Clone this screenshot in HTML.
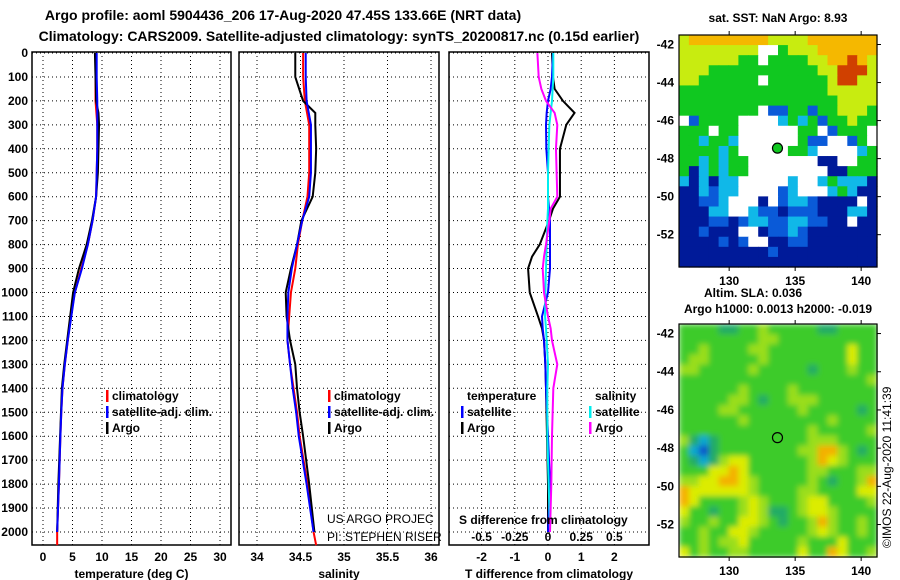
<!DOCTYPE html>
<html><head><meta charset="utf-8"><style>
body{margin:0;background:#fff;width:900px;height:580px;overflow:hidden}
svg{display:block;font-family:"Liberation Sans",sans-serif}
.b{font-weight:bold;font-size:12px}
</style></head><body>
<svg id="fig" width="900" height="580" viewBox="0 0 900 580" xmlns="http://www.w3.org/2000/svg">
<text x="283" y="20" text-anchor="middle" class="b" style="font-size:14px">Argo profile: aoml 5904436_206 17-Aug-2020 47.45S 133.66E (NRT data)</text>
<text x="339" y="41" text-anchor="middle" class="b" style="font-size:14px">Climatology: CARS2009. Satellite-adjusted climatology: synTS_20200817.nc (0.15d earlier)</text>
<g id="panels"></g>
<g id="maps"></g>
<text x="778" y="22" text-anchor="middle" class="b">sat. SST: NaN Argo: 8.93</text>
<text x="753" y="297" text-anchor="middle" class="b">Altim. SLA: 0.036</text>
<text x="778" y="313" text-anchor="middle" class="b">Argo h1000: 0.0013 h2000: -0.019</text>
<text transform="translate(891,548) rotate(-90)" style="font-size:12px">©IMOS 22-Aug-2020 11:41:39</text>
</svg>
<script>
// ---- profile data ----
const depthsT = [0,100,200,250,300,400,500,600,700,800,900,1000,1100,1200,1300,1400,1500,1600,1800,2000];
const tempArgo = [8.8,8.9,9.0,9.4,9.5,9.4,9.3,9.0,8.3,7.4,6.1,5.1,4.6,4.1,3.6,3.2,3.05,2.9,2.6,2.4];
const depthsC = [0,100,200,300,400,500,600,700,800,900,1000,1100,1200,1300,1400,1500,1600,1800,2000,2055];
const tempClim = [8.9,8.9,8.9,9.2,9.2,9.1,9.0,8.4,7.6,6.5,5.4,4.7,4.2,3.7,3.3,3.1,2.95,2.7,2.4,2.4];
const tempSat = [9.1,9.1,9.2,9.2,9.2,9.1,9.0,8.4,7.6,6.6,5.4,4.8,4.2,3.7,3.3,3.1,2.95,2.7,2.4,2.4];
const salArgo = [34.44,34.44,34.53,34.67,34.67,34.68,34.67,34.64,34.51,34.46,34.39,34.33,34.34,34.38,34.44,34.46,34.49,34.53,34.6,34.66];
const salClim = [34.53,34.53,34.55,34.60,34.60,34.60,34.58,34.52,34.47,34.44,34.39,34.37,34.35,34.38,34.42,34.46,34.49,34.58,34.65,34.68];
const salSat = [34.56,34.56,34.57,34.62,34.62,34.62,34.60,34.52,34.46,34.40,34.36,34.35,34.35,34.38,34.41,34.45,34.48,34.57,34.65,34.66];
const dDepths = [0,100,150,200,250,300,400,500,600,650,700,800,850,900,1000,1100,1150,1200,1300,1400,1600,1800,2000];
const tDiffArgo = [0.12,0.15,0.2,0.45,0.8,0.55,0.36,0.36,0.36,0.15,0.03,-0.25,-0.48,-0.6,-0.55,-0.3,-0.18,-0.12,-0.08,-0.06,-0.03,0,0];
const tDiffSat = [0.15,0.12,0.08,0,-0.04,-0.06,-0.05,0,0,0.03,0.06,0.06,0.06,0.06,0,-0.18,-0.16,-0.12,-0.08,-0.06,0,0.06,0];
const sDiffSat = [0.04,0.04,0.035,0.03,0.02,0.01,0.005,0,0,0,-0.005,-0.01,-0.012,-0.015,-0.02,-0.022,-0.015,-0.01,0,-0.005,-0.005,0.005,0.015];
const sDiffArgo = [-0.08,-0.07,-0.05,-0.015,0.05,0.07,0.06,0.065,0.07,0.02,0.01,-0.015,-0.03,-0.04,-0.03,0,0.02,0.03,0.07,0.04,0.03,0.025,0.015];
const depthTicks = [0,100,200,300,400,500,600,700,800,900,1000,1100,1200,1300,1400,1500,1600,1700,1800,1900,2000];
const tempTicks = [0,5,10,15,20,25,30];
const salTicks = [34,34.5,35,35.5,36];
const tdTicks = [-2,-1,0,1,2];
const sdTicks = [-0.5,-0.25,0,0.25,0.5];
const sdTickLabels = ["-0.5","-0.25","0","0.25","0.5"];

// ---- map data ----
const sstRows = [
"YOOOOOOOOYYYYOOOOOOO","YYYYYYYYWWGYYYOOOOOO","YYYYYYGGWGGGGYYOOROY","YYYGGGGGGGGGGGYYRRRY",
"YYGGGGGGWGGGGGGYRRYY","GGGGGGGGGGGGGGGYYYYY","GGGGGGGGGGGGGGGGYYYY","GGGGGGGGWBBGGBGGYYYG",
"WBGGGGWWWWCGCGBGGYGG","GGGWGGWWWWWWGGWBGGGW","GGCGGCWWWWWWGBBWWBGW","GGGGCGWWWWWGGCWWWWCG",
"GGCGCGGWWWWWWWDDWWGG","GDCGCGGWWWWWWWWDDGGG","CDCDCCWWWWWCWWCGCCCD","DDCBCCWWWWBCWWWCGCDD",
"DDBBCWWWDWBCCBDDDDWD","DDDCCWWCBBDBBBDDDCCD","DDDBBDBCCBBCCBBDDWDD","DDBDDDWWDBBCBDDDDDDD",
"DDDDBDBWWDDBBDDDDDDD","DDDDDDDDDBDDDDDDDDDD","DDDDDDDDDDDDDDDDDDDD"];
const slaRows = [
"GGGGTTGGLGGGGGTTGGGG","GGGGGGGGLLGGGGGGGGGG","GGLGGGGLLGGGGGGGGYGG","GLLGGGGGLGGGGGGGGYGG",
"LLGGGGGLGGGGGTGGGLGG","GGGGGGGGGGGGGGGGGGGL","GGGGGGLGGGGLGGGGGGGG","GGGGGLLGTGGLLLGGGGGG",
"GGGGLLGGGGGGLGGGGGTG","GGGGGGLGGGGGGGGLGGGG","GGGGGGGGGGGGGLGGGGGL","LTCTGGGGGGGGGLLLGGGG",
"GCBTGGGGGGGGLLOOLGTG","GTCTLYYGGGGGGLOYLGGG","GGGYYOYGGGGGGLLGGGLL","LLYYOOYLGGGGGLGTGGLO",
"OYYYYYYLGGGGLLGGGGYY","OYGGGGLYLGGGLYYGGGGL","YGGTGGLYLTTGLYYLGGGG","LGGLGGYYLGTGGLOLGGLG",
"GGLGGYYLGGGGGLYLGGLG","GGLGLLYGGGGGLGGGYGGG","YGLGGLLGGGGGYGGOYGGL"];
const latTicks = [-42,-44,-46,-48,-50,-52];
const lonTicks = [130,135,140];
const argoLon = 133.66, argoLat = -47.45;

const NS="http://www.w3.org/2000/svg";
function el(tag,attrs,parent,txt){const e=document.createElementNS(NS,tag);for(const k in attrs)e.setAttribute(k,attrs[k]);if(txt!==undefined)e.textContent=txt;parent.appendChild(e);return e;}
const panels=document.getElementById('panels');
const y = d => 53 + d*0.2395;
const Y0=52, Y1=545;

function panel(name,x0,x1,xs,ticks,labels,title){
  const g=el('g',{},panels);
  
  
  depthTicks.forEach(d=>{const l=el('line',{x1:x0,x2:x1,y1:y(d),y2:y(d),stroke:'#000','stroke-width':1,'stroke-dasharray':'1,3'},g);
    
    });
  ticks.forEach((t,i)=>{const l=el('line',{x1:xs(t),x2:xs(t),y1:Y0,y2:Y1,stroke:'#000','stroke-width':1,'stroke-dasharray':'1,3'},g);
    
    
    if(labels){const tx=el('text',{x:xs(t),y:561,'text-anchor':'middle',class:'b'},g,labels[i]);
    
    }});
  const r=el('rect',{x:x0,y:Y0,width:x1-x0,height:Y1-Y0,fill:'none',stroke:'#000','stroke-width':1.5},g);
  
  
  const tt=el('text',{x:(x0+x1)/2,y:578,'text-anchor':'middle',class:'b'},g,title);
  
  
  return g;
}
function line(g,depths,vals,xs,color,name){
  let pts=[];
  for(let i=0;i<depths.length;i++){pts.push(xs(vals[i])+','+y(depths[i]));}
  const p=el('polyline',{points:pts.join(' '),fill:'none',stroke:color,'stroke-width':2},g);
  
  
}
function legend(g,x,yy,color,text,name){
  const b=el('rect',{x:x,y:yy-10,width:2.5,height:12,fill:color},g);
  
  
  const t=el('text',{x:x+6,y:yy,class:'b'},g,text);
  
  
}
depthTicks.forEach(d=>{const t=el('text',{x:28,y:y(d)+4,'text-anchor':'end',class:'b'},panels,String(d));
  
  });

const xT = v => 43 + v*5.9;
const g1=panel('temperature-panel',32,231,xT,tempTicks,tempTicks.map(String),'temperature (deg C)');
line(g1,depthsC,tempClim,xT,'#f00','temp-climatology-line');
line(g1,depthsT,tempArgo,xT,'#000','temp-argo-line');
line(g1,depthsC.slice(0,19),tempSat.slice(0,19),xT,'#00f','temp-satellite-line');
legend(g1,106,400,'#f00','climatology','legend-climatology');
legend(g1,106,416,'#00f','satellite-adj. clim.','legend-satellite');
legend(g1,106,432,'#000','Argo','legend-argo');

const xS = v => 257 + (v-34)*87;
const g2=panel('salinity-panel',239,439,xS,salTicks,salTicks.map(String),'salinity');
line(g2,depthsC,salClim,xS,'#f00','sal-climatology-line');
line(g2,depthsT,salArgo,xS,'#000','sal-argo-line');
line(g2,depthsC.slice(0,19),salSat.slice(0,19),xS,'#00f','sal-satellite-line');
legend(g2,328,400,'#f00','climatology','legend-climatology');
legend(g2,328,416,'#00f','satellite-adj. clim.','legend-satellite');
legend(g2,328,432,'#000','Argo','legend-argo');
const c1=el('text',{x:327,y:523,style:'font-size:12px'},g2,'US ARGO PROJEC');


const c2=el('text',{x:327,y:541,style:'font-size:12px'},g2,'PI: STEPHEN RISER');



const xTD = v => 548 + v*33.2;
const xSD = v => 548 + v*132.8;
const g3=panel('difference-panel',449,649,xTD,tdTicks,tdTicks.map(String),'T difference from climatology');
line(g3,dDepths,tDiffArgo,xTD,'#000','tdiff-argo-line');
line(g3,dDepths,tDiffSat,xTD,'#00f','tdiff-satellite-line');
line(g3,dDepths,sDiffSat,xSD,'#0ee','sdiff-satellite-line');
line(g3,dDepths,sDiffArgo,xSD,'#f0f','sdiff-argo-line');
const h1=el('text',{x:467,y:400,class:'b'},g3,'temperature');


const h2=el('text',{x:595,y:400,class:'b'},g3,'salinity');


legend(g3,461,416,'#00f','satellite','legend-t-satellite');
legend(g3,461,432,'#000','Argo','legend-t-argo');
legend(g3,589,416,'#0ee','satellite','legend-s-satellite');
legend(g3,589,432,'#f0f','Argo','legend-s-argo');
const st=el('text',{x:459,y:524,class:'b'},g3,'S difference from climatology');


sdTicks.forEach((t,i)=>{const tx=el('text',{x:xSD(t),y:541,'text-anchor':'middle',class:'b'},g3,sdTickLabels[i]);
  
  });

const maps=document.getElementById('maps');
const MX0=679, MX1=877;
const lonX = lo => MX0 + (lo-126.2)*(MX1-MX0)/15.0;
const sstCol={W:'#ffffff',D:'#001a99',B:'#0a5ad8',C:'#10b8e8',G:'#10c820',Y:'#c8ec10',O:'#f5b800',R:'#d04000'};
const slaCol={G:'#3ccb2c',L:'#9ade1e',Y:'#dcec00',O:'#f4b000',T:'#22ab66',C:'#10a8d0',B:'#0a55cc'};
function drawMap(name,rows,cols,top,bot,blur){
  const g=el('g',{},maps);
  
  
  const latY = la => top + (-41.5-la)*(bot-top)/12.2;
  const cw=(MX1-MX0)/rows[0].length, ch=(bot-top)/rows.length;
  const cg=el('g',blur?{filter:'url(#bl)'}:{},g);
  rows.forEach((r,ri)=>{for(let ci=0;ci<r.length;ci++){
    const c=el('rect',{x:MX0+ci*cw,y:top+ri*ch,width:cw+0.6,height:ch+0.6,fill:cols[r[ci]]},cg);
    
    }});
  const fr=el('rect',{x:MX0,y:top,width:MX1-MX0,height:bot-top,fill:'none',stroke:'#000','stroke-width':1.2},g);
  
  
  latTicks.forEach(la=>{const yy=latY(la);
    el('line',{x1:MX1,x2:MX1+4,y1:yy,y2:yy,stroke:'#000'},g);
    const t=el('text',{x:674,y:yy+4,'text-anchor':'end',class:'b'},g,String(la));
    
    });
  lonTicks.forEach(lo=>{const xx=lonX(lo);
    el('line',{x1:xx,x2:xx,y1:bot,y2:bot+4,stroke:'#000'},g);
    el('line',{x1:xx,x2:xx,y1:top,y2:top-4,stroke:'#000'},g);
    const t=el('text',{x:xx,y:bot+18,'text-anchor':'middle',class:'b'},g,String(lo));
    
    });
  return {g,latY};
}
const defs=el('defs',{},document.getElementById('fig'));
const f=el('filter',{id:'bl',x:'0',y:'0',width:'1',height:'1'},defs);
el('feGaussianBlur',{stdDeviation:'3',edgeMode:'duplicate'},f);
const m1=drawMap('sst-map',sstRows,sstCol,35,267,false);
const mk1=el('circle',{cx:lonX(argoLon),cy:m1.latY(argoLat),r:5,fill:'#10c820',stroke:'#000','stroke-width':1.2},m1.g);


const m2=drawMap('sla-map',slaRows,slaCol,324,557,true);
const mk2=el('circle',{cx:lonX(argoLon),cy:m2.latY(argoLat),r:5,fill:'none',stroke:'#000','stroke-width':1.2},m2.g);


</script>
</body></html>
